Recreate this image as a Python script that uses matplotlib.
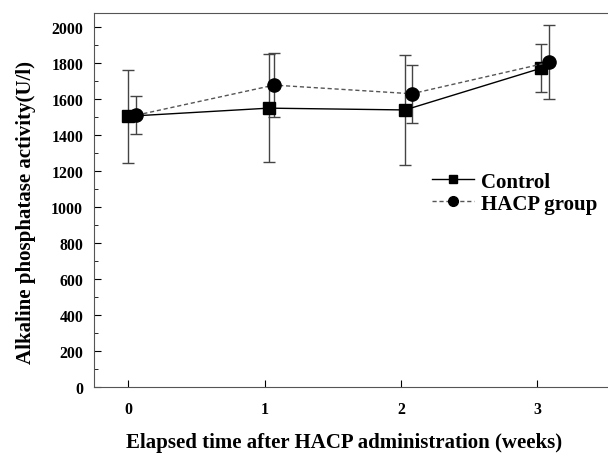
import matplotlib.pyplot as plt
from matplotlib.lines import Line2D
import numpy as np

plt.rcParams['font.family'] = ['Liberation Serif', 'DejaVu Serif']
plt.rcParams['font.weight'] = 'bold'

# datos
semanas = [0, 1, 2, 3]
x_control = [0.0, 1.03, 2.03, 3.03]
x_hacp = [0.06, 1.07, 2.08, 3.09]
control = [1505, 1550, 1540, 1772]
control_err = [258, 300, 308, 132]
hacp = [1511, 1678, 1630, 1805]
hacp_err = [106, 178, 160, 205]

fig = plt.figure(figsize=(6.08, 4.56), dpi=100)
ax = fig.add_axes([0.155, 0.149, 0.845, 0.82])

ax.errorbar(x_control, control, yerr=control_err, color='black', ecolor='#444444',
            elinewidth=1, capsize=4, capthick=1, linewidth=1,
            marker='s', markersize=8.5)
ax.errorbar(x_hacp, hacp, yerr=hacp_err, color='#555555', ecolor='#444444',
            elinewidth=1, capsize=4, capthick=1, linewidth=1, linestyle=(0, (3, 2)),
            marker='o', markersize=9.5, markerfacecolor='black', markeredgecolor='black')

ax.set_xlim(-0.25, 3.52)
ax.set_ylim(0, 2078)
ax.set_xticks(semanas)
ax.set_yticks(np.arange(0, 2001, 200))
ax.set_yticks(np.arange(100, 2001, 200), minor=True)
ax.tick_params(direction='in', length=5, labelsize=11.4, pad=8)
ax.tick_params(axis='y', which='minor', direction='in', length=3)
ax.tick_params(axis='x', pad=10)

for s in ['left', 'bottom', 'top']:
    ax.spines[s].set_color('#555555')
ax.spines['right'].set_visible(False)

ax.set_xlabel('Elapsed time after HACP administration (weeks)', fontsize=15,
              fontweight='bold')
ax.set_ylabel('Alkaline phosphatase activity(U/l)', fontsize=15,
              fontweight='bold')
ax.xaxis.set_label_coords(0.487, -0.12)
ax.yaxis.set_label_coords(-0.113, 0.47)

# leyenda sin barras de error
manejadores = [
    Line2D([], [], color='black', linewidth=1, marker='s', markersize=6),
    Line2D([], [], color='#555555', linewidth=1, linestyle=(0, (3, 2)),
           marker='o', markersize=7, markerfacecolor='black', markeredgecolor='black'),
]
leg = ax.legend(manejadores, ['Control', 'HACP group'], loc='upper left',
                bbox_to_anchor=(0.637, 0.604), frameon=False, fontsize=15,
                handlelength=2.0, handletextpad=0.35, labelspacing=0.1, borderpad=0)
for t in leg.get_texts():
    t.set_fontweight('bold')

fig.savefig('out.png', dpi=100)
